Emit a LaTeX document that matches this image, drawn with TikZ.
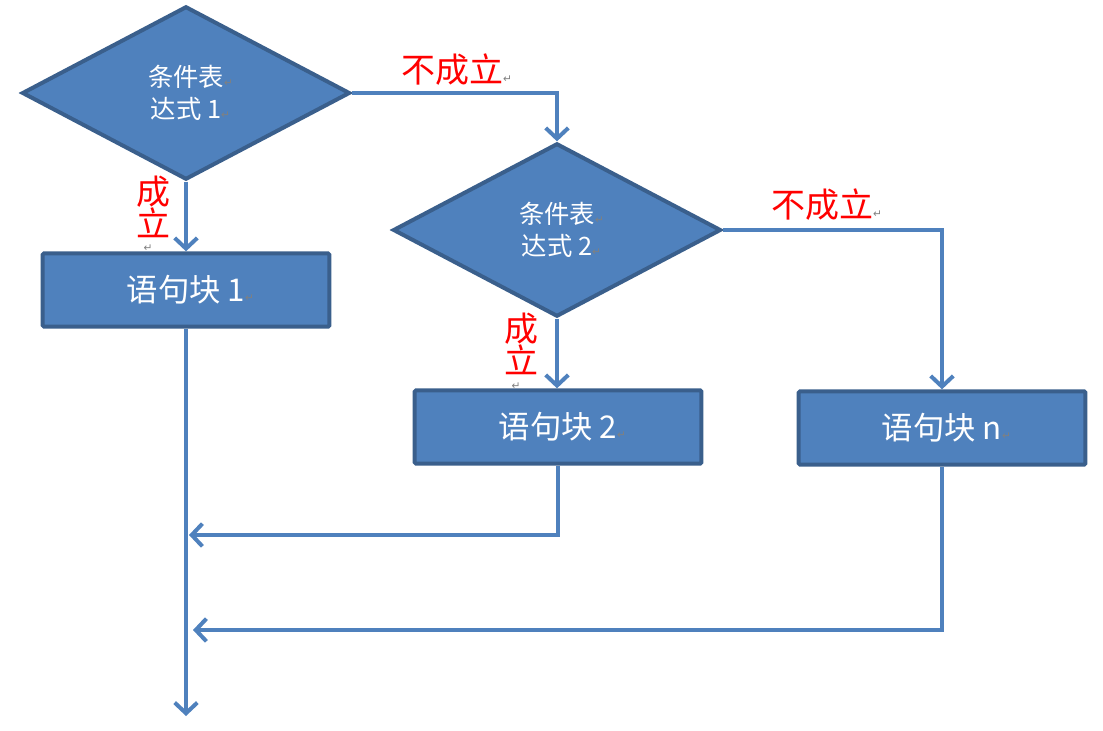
\documentclass[tikz,border=0pt]{standalone}
\usepackage{fontspec}
\usepackage{xcolor}
\usetikzlibrary{shapes.geometric,arrows.meta}
\newfontfamily\cjk{Noto Sans CJK SC}
\newfontfamily\dejavu{DejaVu Sans}
\definecolor{shapefill}{HTML}{4F81BD}
\definecolor{shapeedge}{HTML}{3A5F8C}
\definecolor{linkblue}{HTML}{4F81BD}
\newcommand\retmark{\rlap{\dejavu\fontsize{8}{8}\selectfont\textcolor{gray}{↵}}}

\begin{document}
\begin{tikzpicture}[x=0.75pt,y=-0.75pt]

    % Flowchart style
    \tikzset{
        cond/.style={diamond, draw=shapeedge, fill=shapefill, line width=3pt,
            minimum width=246pt, minimum height=130pt, inner sep=0pt,
            text=white, align=center, font=\cjk\fontsize{19}{24}\selectfont},
        block/.style={rectangle, draw=shapeedge, fill=shapefill, line width=3pt,
            minimum width=215pt, minimum height=55pt, rounded corners=1pt,
            text=white, font=\cjk\fontsize{23.5}{26}\selectfont},
        link/.style={draw=linkblue, line width=3pt,
            -{Straight Barb[length=8pt,width=17pt,line width=3pt]}},
        branch/.style={text=red, align=center, inner sep=0pt,
            font=\cjk\fontsize{25.5}{24}\selectfont},
        retsign/.style={inner sep=0pt, font=\dejavu\fontsize{8}{8}\selectfont, text=gray}
    }
    \useasboundingbox (0,0) rectangle (1103,731);

    % Shapes
    \node[cond] (C1) at (186,93) {条件表\retmark\\达式 1\retmark};
    \node[cond] (C2) at (557,230) {条件表\retmark\\达式 2\retmark};
    \node[block] (B1) at (186,290) {语句块 1\retmark};
    \node[block] (B2) at (558,427) {语句块 2\retmark};
    \node[block] (Bn) at (942,428) {语句块 n\retmark};

    % Branch labels
    \node[branch] (no1) at (452,70) {不成立\retmark};
    \node[branch] (no2) at (822,205) {不成立\retmark};
    \node[branch] (yes1) at (153,207) {成\\立};
    \node[branch] (yes2) at (521,344) {成\\立};
    \node[retsign] (yes1m) at (148,248) {↵};
    \node[retsign] (yes2m) at (516,386) {↵};

    % Free ends
    \coordinate (J2) at (189,535);
    \coordinate (Jn) at (193,630);
    \coordinate (out) at (186,716);

    % Connectors
    \draw[link] (C1.south) -- (B1.north);
    \draw[link] (C1.east) -| (C2.north);
    \draw[link] (C2.south) -- (C2.south |- B2.north);
    \draw[link] (C2.east) -| (Bn.north);
    \draw[link] (B1.south) -- (out);
    \draw[link] (B2.south) |- (J2);
    \draw[link] (Bn.south) |- (Jn);
\end{tikzpicture}
\end{document}
